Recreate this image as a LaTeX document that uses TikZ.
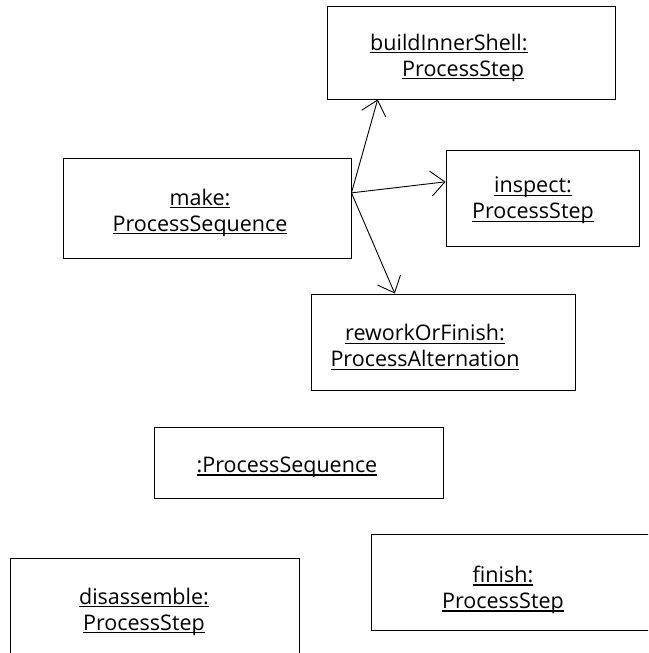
\documentclass[tikz,border=0pt]{standalone}
\usepackage{fontspec}
\setmainfont{Open Sans}
\usetikzlibrary{positioning,calc,arrows.meta}
\newsavebox{\ulbox}
\newcommand{\objul}[1]{\sbox{\ulbox}{#1}\rlap{\rule[-3.4pt]{\wd\ulbox}{1.2pt}}\usebox{\ulbox}}

\begin{document}
\begin{tikzpicture}[x=1pt, y=-1pt,
    obj/.style={draw, line width=0.9pt, inner sep=0pt},
    lbl/.style={font=\fontsize{21.5}{26}\selectfont, align=center, inner sep=0pt},
    link/.style={-{Straight Barb[length=14pt,width=25pt]}, line width=0.9pt}]
    \useasboundingbox (0,0) rectangle (648,653);
    \clip (0,0) rectangle (648,653);

    % Objects
    \node[obj, minimum width=288pt, minimum height=93pt] (build) at (471,52.5) {};
    \node[lbl, align=left, anchor=west] (buildtxt) at (370,57.5) {\objul{buildInnerShell:}\\\hspace*{32pt}\objul{ProcessStep}};

    \node[obj, minimum width=288pt, minimum height=100pt] (make) at (207,208) {};
    \node[lbl] (maketxt) at (200,212.5) {\objul{make:}\\\objul{ProcessSequence}};

    \node[obj, minimum width=193pt, minimum height=96pt] (insp) at (542.5,198) {};
    \node[lbl] (insptxt) at (533,200.5) {\objul{inspect:}\\\objul{ProcessStep}};

    \node[obj, minimum width=264pt, minimum height=96pt] (rework) at (443,342) {};
    \node[lbl] (reworktxt) at (425,347.5) {\objul{reworkOrFinish:}\\\objul{ProcessAlternation}};

    \node[obj, minimum width=289pt, minimum height=71pt] (seq) at (298.5,462.5) {};
    \node[lbl] (seqtxt) at (287,467) {\objul{:ProcessSequence}};

    \node[obj, minimum width=289pt, minimum height=112pt] (disas) at (154.5,614) {};
    \node[lbl] (disastxt) at (144,611.5) {\objul{disassemble:}\\\objul{ProcessStep}};

    \node[obj, minimum width=281pt, minimum height=96pt] (finish) at (511.5,582) {};
    \node[lbl] (finishtxt) at (503,589.5) {\objul{finish:}\\\objul{ProcessStep}};

    % Links
    \coordinate (src) at ($(make.north east)!0.35!(make.south east)$);
    \draw[link] (src) -- ($(build.south west)!0.177!(build.south east)$);
    \draw[link] (src) -- ($(insp.north west)!0.333!(insp.south west)$);
    \draw[link] (src) -- ($(rework.north west)!0.318!(rework.north east)$);
\end{tikzpicture}
\end{document}
